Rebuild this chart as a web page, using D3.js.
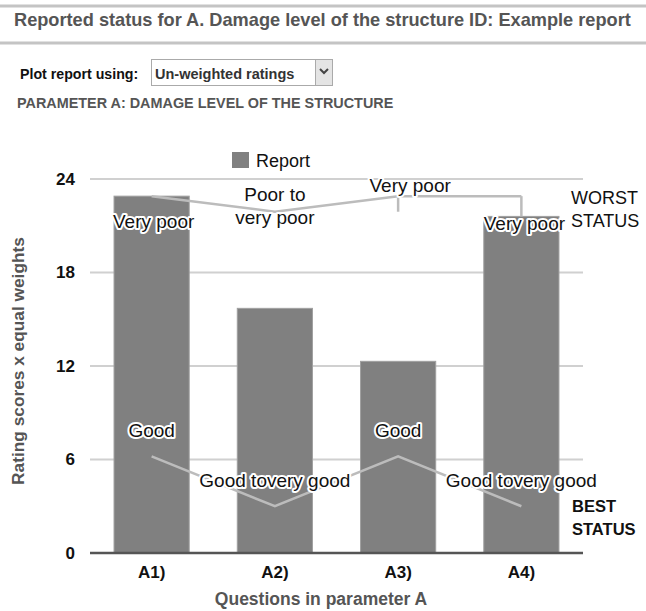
<!DOCTYPE html>
<html>
<head>
<meta charset="utf-8">
<script src="https://cdn.jsdelivr.net/npm/d3@7"></script>
<style>
  body { margin: 0; background: #fff; }
  svg text { font-family: "Liberation Sans", Arial, sans-serif; }
  .halo { paint-order: stroke; stroke: #fff; stroke-width: 4px; stroke-linejoin: round; }
</style>
</head>
<body>
<div id="chart"></div>
<script>
// Chart data
var categories = ["A1)", "A2)", "A3)", "A4)"];
var reportValues = [22.9, 15.7, 12.3, 21.6];
var worstValues = [22.9, 21.9, 22.9, 22.9];
var worstLow = [null, null, 21.9, 21.6];
var bestValues = [6.2, 3.0, 6.2, 3.0];
var worstLabels = [["Very poor"], ["Poor to", "very poor"], ["Very poor"], ["Very poor"]];
var bestLabels = ["Good", "Good tovery good", "Good", "Good tovery good"];
var yTicks = [0, 6, 12, 18, 24];

// label offsets relative to the line points (style only)
var worstDy = [32, 1, -4, 34];
var worstDx = [2, 0, 12, 3];

var W = 646, H = 611;
var plotLeft = 90, plotRight = 583, plotTop = 179, plotBottom = 553;

var svg = d3.select("#chart").append("svg")
    .attr("width", W)
    .attr("height", H);

// Header
svg.append("line").attr("x1", 0).attr("x2", W).attr("y1", 6).attr("y2", 6)
    .attr("stroke", "#c4c4c4").attr("stroke-width", 3);
svg.append("text")
    .attr("x", 14).attr("y", 26)
    .style("font-size", "18.2px").style("font-weight", "bold").attr("fill", "#555")
    .text("Reported status for A. Damage level of the structure ID: Example report");
svg.append("line").attr("x1", 0).attr("x2", W).attr("y1", 43).attr("y2", 43)
    .attr("stroke", "#c4c4c4").attr("stroke-width", 3);

svg.append("text")
    .attr("x", 20).attr("y", 79)
    .style("font-size", "14.2px").style("font-weight", "bold").attr("fill", "#111")
    .text("Plot report using:");

// fake select box
svg.append("rect").attr("x", 151.5).attr("y", 59.5).attr("width", 181).attr("height", 26)
    .attr("fill", "#fff").attr("stroke", "#aaa");
svg.append("rect").attr("x", 315.5).attr("y", 59.5).attr("width", 17).attr("height", 26)
    .attr("fill", "#e4e4e4").attr("stroke", "#aaa");
svg.append("path").attr("d", "M320,69 L324,73 L328,69")
    .attr("fill", "none").attr("stroke", "#444").attr("stroke-width", 2);
svg.append("text")
    .attr("x", 155).attr("y", 79)
    .style("font-size", "14.5px").style("font-weight", "bold").attr("fill", "#333")
    .text("Un-weighted ratings");

svg.append("text")
    .attr("x", 17).attr("y", 108)
    .style("font-size", "14.4px").style("font-weight", "bold").attr("fill", "#555")
    .text("PARAMETER A: DAMAGE LEVEL OF THE STRUCTURE");

// Scales
var x = d3.scaleBand()
    .domain(categories)
    .range([plotLeft, plotRight])
    .paddingInner(0.39)
    .paddingOuter(0.195);

var y = d3.scaleLinear()
    .domain([0, 24])
    .range([plotBottom, plotTop]);

var cx = function(i) { return x(categories[i]) + x.bandwidth() / 2; };

// Gridlines
svg.append("g")
    .selectAll("line")
    .data(yTicks.slice(1))
  .enter().append("line")
    .attr("x1", plotLeft).attr("x2", plotRight)
    .attr("y1", function(d) { return y(d); })
    .attr("y2", function(d) { return y(d); })
    .attr("stroke", "#d0d0d0").attr("stroke-width", 2);

// Y axis labels
var yAxis = svg.append("g")
    .attr("transform", "translate(" + (plotLeft - 15) + ",0)")
    .call(d3.axisLeft(y).tickValues(yTicks).tickSize(0).tickPadding(0));
yAxis.select(".domain").remove();
yAxis.selectAll("text")
    .style("font-size", "17px").style("font-weight", "bold").attr("fill", "#111")
    .style("font-family", "'Liberation Sans', Arial, sans-serif");

// Bars
svg.selectAll(".bar")
    .data(reportValues)
  .enter().append("rect")
    .attr("class", "bar")
    .attr("x", function(d, i) { return x(categories[i]); })
    .attr("width", x.bandwidth())
    .attr("y", function(d) { return y(d); })
    .attr("height", function(d) { return plotBottom - y(d); })
    .attr("fill", "#808080")
    .attr("stroke", "#a0a0a0").attr("stroke-width", 1);

// Baseline
svg.append("line").attr("x1", plotLeft).attr("x2", plotRight)
    .attr("y1", y(0)).attr("y2", y(0))
    .attr("stroke", "#555").attr("stroke-width", 2.5);

// X axis labels
var xAxis = svg.append("g")
    .attr("transform", "translate(0," + plotBottom + ")")
    .call(d3.axisBottom(x).tickSize(0).tickPadding(13));
xAxis.select(".domain").remove();
xAxis.selectAll("text")
    .style("font-size", "17px").style("font-weight", "bold").attr("fill", "#111")
    .style("font-family", "'Liberation Sans', Arial, sans-serif");

// Status lines
var line = d3.line()
    .x(function(d, i) { return cx(i); })
    .y(function(d) { return y(d); });

svg.append("path").datum(worstValues)
    .attr("d", line)
    .attr("fill", "none").attr("stroke", "#bcbcbc").attr("stroke-width", 2.5);
svg.append("path").datum(bestValues)
    .attr("d", line)
    .attr("fill", "none").attr("stroke", "#bcbcbc").attr("stroke-width", 2.5);

// interval ticks on worst line
worstLow.forEach(function(d, i) {
  if (d == null) return;
  svg.append("line")
      .attr("x1", cx(i)).attr("x2", cx(i))
      .attr("y1", y(worstValues[i])).attr("y2", y(d))
      .attr("stroke", "#bcbcbc").attr("stroke-width", 2.5);
});

// Worst labels
worstLabels.forEach(function(lines, i) {
  var t = svg.append("text")
      .attr("class", "halo")
      .attr("x", cx(i) + worstDx[i])
      .attr("y", y(worstValues[i]) + worstDy[i] - (lines.length - 1) * 11.5)
      .attr("text-anchor", "middle")
      .style("font-size", "19px").attr("fill", "#111");
  lines.forEach(function(l, j) {
    t.append("tspan").attr("x", cx(i) + worstDx[i]).attr("dy", j ? 23 : 0).text(l);
  });
});

// Best labels
svg.selectAll(".bestLabel")
    .data(bestLabels)
  .enter().append("text")
    .attr("class", "halo")
    .attr("x", function(d, i) { return cx(i); })
    .attr("y", function(d, i) { return y(bestValues[i]) - 19; })
    .attr("text-anchor", "middle")
    .style("font-size", "19px").attr("fill", "#111")
    .text(function(d) { return d; });

// Status side notes
svg.append("text").attr("x", 571).attr("y", 204)
    .style("font-size", "18px").attr("fill", "#111").text("WORST");
svg.append("text").attr("x", 571).attr("y", 227)
    .style("font-size", "18px").attr("fill", "#111").text("STATUS");
svg.append("text").attr("x", 572).attr("y", 512)
    .style("font-size", "16.5px").style("font-weight", "bold").attr("fill", "#111").text("BEST");
svg.append("text").attr("x", 572).attr("y", 535)
    .style("font-size", "16.5px").style("font-weight", "bold").attr("fill", "#111").text("STATUS");

// Legend
svg.append("rect").attr("x", 232).attr("y", 152).attr("width", 17).attr("height", 16)
    .attr("fill", "#808080");
svg.append("text").attr("x", 256).attr("y", 167)
    .style("font-size", "18px").attr("fill", "#111").text("Report");

// Axis titles
svg.append("text")
    .attr("transform", "rotate(-90)")
    .attr("x", -361).attr("y", 24)
    .attr("text-anchor", "middle")
    .style("font-size", "17.3px").style("font-weight", "bold").attr("fill", "#555")
    .text("Rating scores x equal weights");

svg.append("text")
    .attr("x", 321).attr("y", 605)
    .attr("text-anchor", "middle")
    .style("font-size", "17.5px").style("font-weight", "bold").attr("fill", "#555")
    .text("Questions in parameter A");
</script>
</body>
</html>
